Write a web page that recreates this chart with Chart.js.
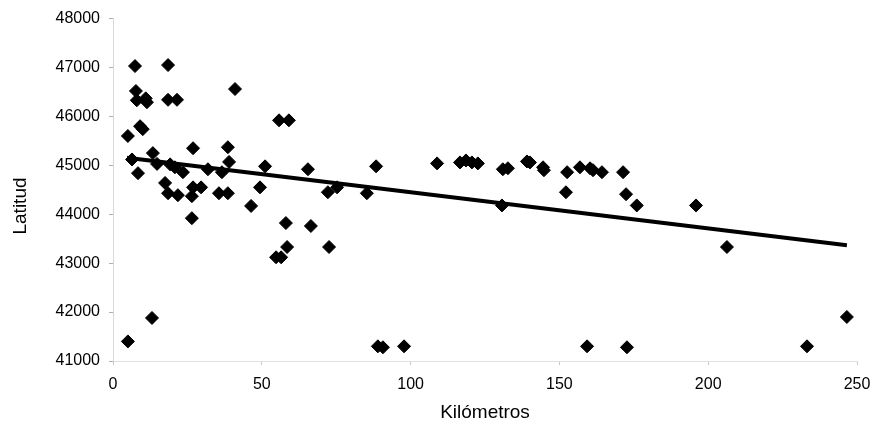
<!DOCTYPE html>
<html><head><meta charset="utf-8">
<script src="https://cdn.jsdelivr.net/npm/chart.js@4/dist/chart.umd.min.js"></script>
<style>html,body{margin:0;padding:0;background:#fff}#wrap{width:871px;height:429px}</style>
</head><body><div id="wrap"><canvas id="c" width="871" height="429"></canvas></div>
<script>
const kilometros = [5.0, 5.0, 13.1, 7.4, 18.5, 41.0, 7.7, 8.0, 11.4, 11.0, 18.5, 21.5, 9.1, 10.0,
  26.9, 38.6, 13.4, 6.4, 14.8, 19.2, 20.8, 23.5, 31.9, 36.6, 39.0, 8.4, 17.5, 18.5, 21.8, 26.9,
  29.6, 26.5, 35.6, 38.6, 46.4, 26.5, 55.8, 59.1, 51.1, 65.5, 88.4, 49.4, 72.2, 75.3, 85.3,
  58.1, 66.5, 58.5, 72.6, 54.8, 56.5, 89.0, 90.7, 97.8, 159.3, 172.7, 233.2, 246.6, 206.3,
  176.0, 195.9, 108.9, 116.6, 118.6, 120.6, 122.6, 131.0, 132.7, 139.1, 140.1, 144.5, 144.8,
  130.7, 152.6, 152.2, 156.9, 160.3, 161.3, 164.3, 171.4, 172.4];
const latitud = [45600, 41400, 41880, 47030, 47050, 46560, 46520, 46330, 46290, 46370, 46340, 46340, 45800, 45740,
  45350, 45370, 45250, 45120, 45030, 45020, 44960, 44860, 44920, 44860, 45070, 44840, 44640, 44430, 44390, 44550,
  44550, 44370, 44430, 44430, 44170, 43920, 45920, 45920, 44980, 44920, 44980, 44550, 44450, 44550, 44430,
  43820, 43760, 43330, 43330, 43120, 43120, 41300, 41280, 41300, 41300, 41280, 41300, 41900, 43330,
  44180, 44180, 45040, 45060, 45100, 45060, 45040, 44920, 44940, 45080, 45060, 44960, 44900,
  44180, 44860, 44450, 44960, 44940, 44900, 44860, 44860, 44410];
const trendKm = [4.7, 246.6];
const trendLat = [45157, 43368];
const xTickValues = [0, 50, 100, 150, 200, 250];
const yTickValues = [41000, 42000, 43000, 44000, 45000, 46000, 47000, 48000];
const xTitle = 'Kilómetros';
const yTitle = 'Latitud';

const points = kilometros.map((k, i) => ({x: k, y: latitud[i]}));
const trend = trendKm.map((k, i) => ({x: k, y: trendLat[i]}));
const FONT = '"Liberation Sans", Arial, sans-serif';

const yTitlePlugin = {
  id: 'yTitle',
  afterDraw(chart) {
    const ctx = chart.ctx;
    ctx.save();
    ctx.translate(21, 206);
    ctx.rotate(-Math.PI / 2);
    ctx.font = '19px ' + FONT;
    ctx.fillStyle = '#000';
    ctx.textAlign = 'center';
    ctx.textBaseline = 'middle';
    ctx.fillText(yTitle, 0, 0);
    ctx.restore();
  }
};

new Chart(document.getElementById('c'), {
  type: 'scatter',
  data: {
    datasets: [
      {
        type: 'line',
        data: trend,
        borderColor: '#000',
        borderWidth: 4,
        pointRadius: 0,
        fill: false,
        order: 0
      },
      {
        data: points,
        pointStyle: 'rectRot',
        pointRadius: 6.5,
        pointBackgroundColor: '#000',
        pointBorderColor: '#000',
        pointBorderWidth: 1,
        order: 1
      }
    ]
  },
  options: {
    responsive: false,
    animation: false,
    layout: {padding: {top: 9, right: 0, left: 0, bottom: 0}},
    plugins: {legend: {display: false}, tooltip: {enabled: false}},
    scales: {
      x: {
        type: 'linear',
        min: 0, max: 250,
        afterBuildTicks: s => { s.ticks = xTickValues.map(v => ({value: v})); },
        afterFit: s => { s.height = 68; s.paddingRight = 14; s.paddingLeft = 0; },
        ticks: {color: '#000', font: {family: FONT, size: 16}, padding: 10, maxRotation: 0,
          callback: v => String(v)},
        grid: {display: true, drawOnChartArea: false, drawTicks: true, tickLength: 4, color: '#c8c8c8'},
        border: {display: true, color: '#e0e0e0', dash: [1, 3]},
        title: {display: true, text: xTitle, color: '#000', font: {family: FONT, size: 19}, padding: {top: 0, bottom: 5}}
      },
      y: {
        type: 'linear',
        min: 41000, max: 48000,
        afterBuildTicks: s => { s.ticks = yTickValues.map(v => ({value: v})); },
        afterFit: s => { s.width = 113; },
        ticks: {color: '#000', font: {family: FONT, size: 16}, padding: 9,
          callback: v => String(v)},
        grid: {display: true, drawOnChartArea: false, drawTicks: true, tickLength: 4, color: '#b0b0b0'},
        border: {display: true, color: '#d8d8d8', dash: [1, 3]}
      }
    }
  },
  plugins: [yTitlePlugin]
});
</script>
</body></html>
